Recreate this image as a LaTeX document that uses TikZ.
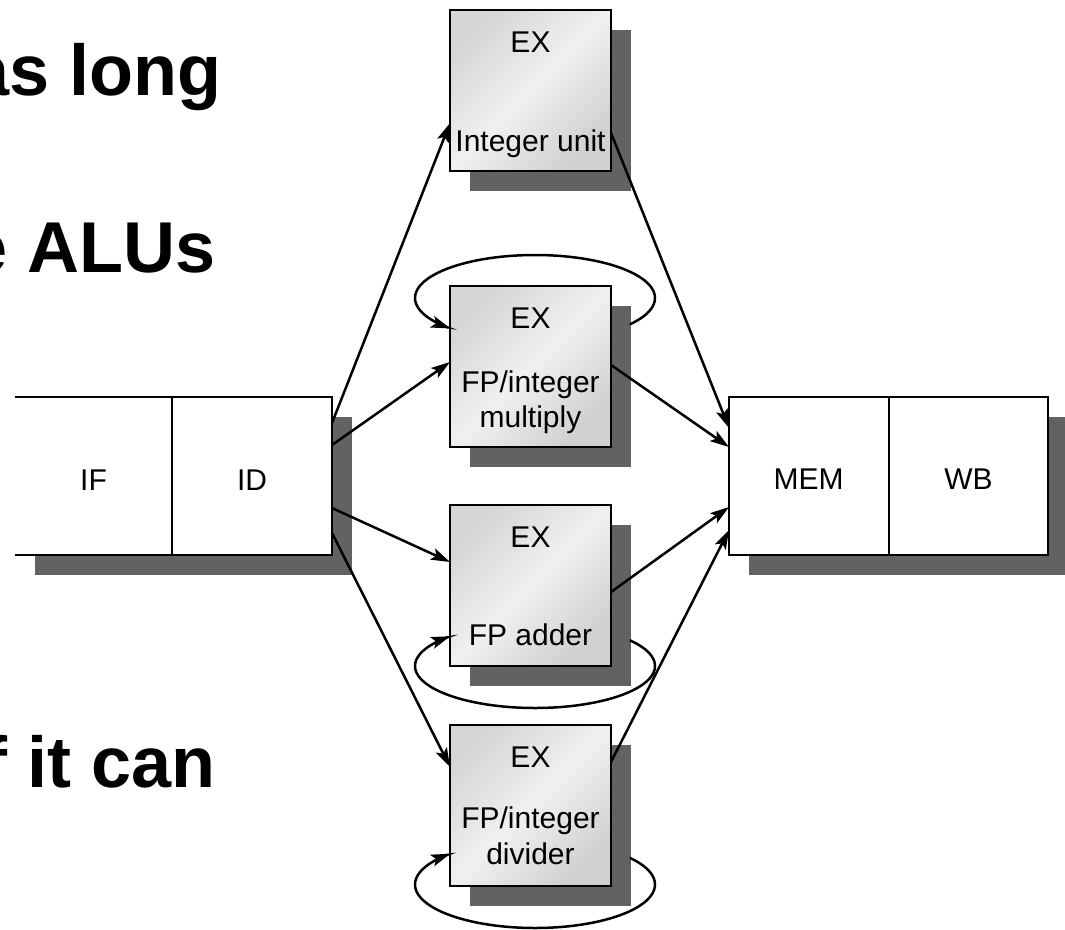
\documentclass[tikz,border=0pt]{standalone}
\usepackage{fontspec}
\setmainfont{Liberation Sans}
\usetikzlibrary{arrows.meta,shadows,calc}
\definecolor{shadowgray}{RGB}{98,98,98}
\definecolor{gA}{RGB}{214,214,214}
\definecolor{gB}{RGB}{240,240,240}
\definecolor{gC}{RGB}{208,208,208}
\begin{document}
\begin{tikzpicture}[x=1pt,y=-1pt,
  myshadow/.style={drop shadow={shadow xshift=20pt,shadow yshift=-20pt,opacity=1,fill=shadowgray}},
  exbox/.style={draw,line width=2.6pt,minimum width=161pt,minimum height=161pt,inner sep=0pt,outer sep=0pt,anchor=north west,
    top color=gA,bottom color=gC,middle color=gB,shading angle=45,myshadow},
  stagebox/.style={fill=white,minimum height=158pt,inner sep=0pt,outer sep=0pt,anchor=north west,myshadow},
  lbl/.style={font=\fontsize{30}{34}\selectfont,anchor=base,inner sep=0pt},
  big/.style={font=\bfseries\fontsize{72}{80}\selectfont,anchor=base east,inner sep=0pt},
  conn/.style={line width=2.5pt,-{Stealth[length=19pt,width=12pt,inset=4pt]}},
  edge/.style={line width=2.6pt}]
\path[use as bounding box] (0,0) rectangle (1065,929);
\clip (0,0) rectangle (1065,929);

% left text
\node[big] (t1) at (222,95) {as long};
\node[big] (t2) at (216,272) {e ALUs};
\node[big] (t3) at (216,787) {f it can};

% IF / ID
\node[stagebox,minimum width=157pt] (IF) at (15,397) {};
\node[stagebox,minimum width=160pt] (ID) at (172,397) {};
\draw[edge] (IF.north west) -- (ID.north east) -- (ID.south east) -- (IF.south west);
\draw[edge] (ID.north west) -- (ID.south west);
\node[lbl] (lIF) at (93.5,490) {IF};
\node[lbl] (lID) at (252,490) {ID};

% MEM / WB
\node[stagebox,minimum width=160pt,draw,line width=2.6pt] (MEM) at (729,397) {};
\node[stagebox,minimum width=159pt,draw,line width=2.6pt] (WB) at (889,397) {};
\node[lbl] (lMEM) at (808.5,489) {MEM};
\node[lbl] (lWB) at (968.5,489) {WB};

% EX units
\node[exbox] (u1) at (450,10) {};
\node[exbox] (u2) at (450,286) {};
\node[exbox] (u3) at (450,505) {};
\node[exbox] (u4) at (450,725) {};

\node[lbl] (e1) at (530.5,52) {EX};
\node[lbl] (n1) at (530.5,151) {Integer unit};
\node[lbl] (e2) at (530.5,328) {EX};
\node[lbl] (n2a) at (530.5,392) {FP/integer};
\node[lbl] (n2b) at (530.5,427) {multiply};
\node[lbl] (e3) at (530.5,547) {EX};
\node[lbl] (n3) at (530.5,645) {FP adder};
\node[lbl] (e4) at (530.5,767) {EX};
\node[lbl] (n4a) at (530.5,828) {FP/integer};
\node[lbl] (n4b) at (530.5,864) {divider};

% ID -> EX
\draw[conn] ($(ID.north east)+(0,26)$) -- ($(u1.north west)+(0,113)$);
\draw[conn] ($(ID.north east)+(0,48)$) -- ($(u2.north west)+(0,76)$);
\draw[conn] ($(ID.north east)+(0,111)$) -- ($(u3.north west)+(0,57)$);
\draw[conn] ($(ID.north east)+(0,136)$) -- ($(u4.north west)+(0,42)$);
% EX -> MEM
\draw[conn] ($(u1.north east)+(0,123)$) -- ($(MEM.north west)+(0,31)$);
\draw[conn] ($(u2.north east)+(0,79)$) -- ($(MEM.north west)+(0,50)$);
\draw[conn] ($(u3.north east)+(0,87)$) -- ($(MEM.north west)+(0,110)$);
\draw[conn] ($(u4.north east)+(0,37)$) -- ($(MEM.north west)+(0,133)$);

% loops
\begin{scope}[shift={(u2.north west)}]
  \draw[conn] plot[domain=37.8:-225,samples=90,smooth] ({85+120*cos(\x)},{12+43*sin(\x)});
\end{scope}
\begin{scope}[shift={(u3.north west)}]
  \draw[conn] plot[domain=-37.8:225,samples=90,smooth] ({85+120*cos(\x)},{161+42*sin(\x)});
\end{scope}
\begin{scope}[shift={(u4.north west)}]
  \draw[conn] plot[domain=-37.8:225,samples=90,smooth] ({85+120*cos(\x)},{159.5+43.5*sin(\x)});
\end{scope}
\end{tikzpicture}
\end{document}
